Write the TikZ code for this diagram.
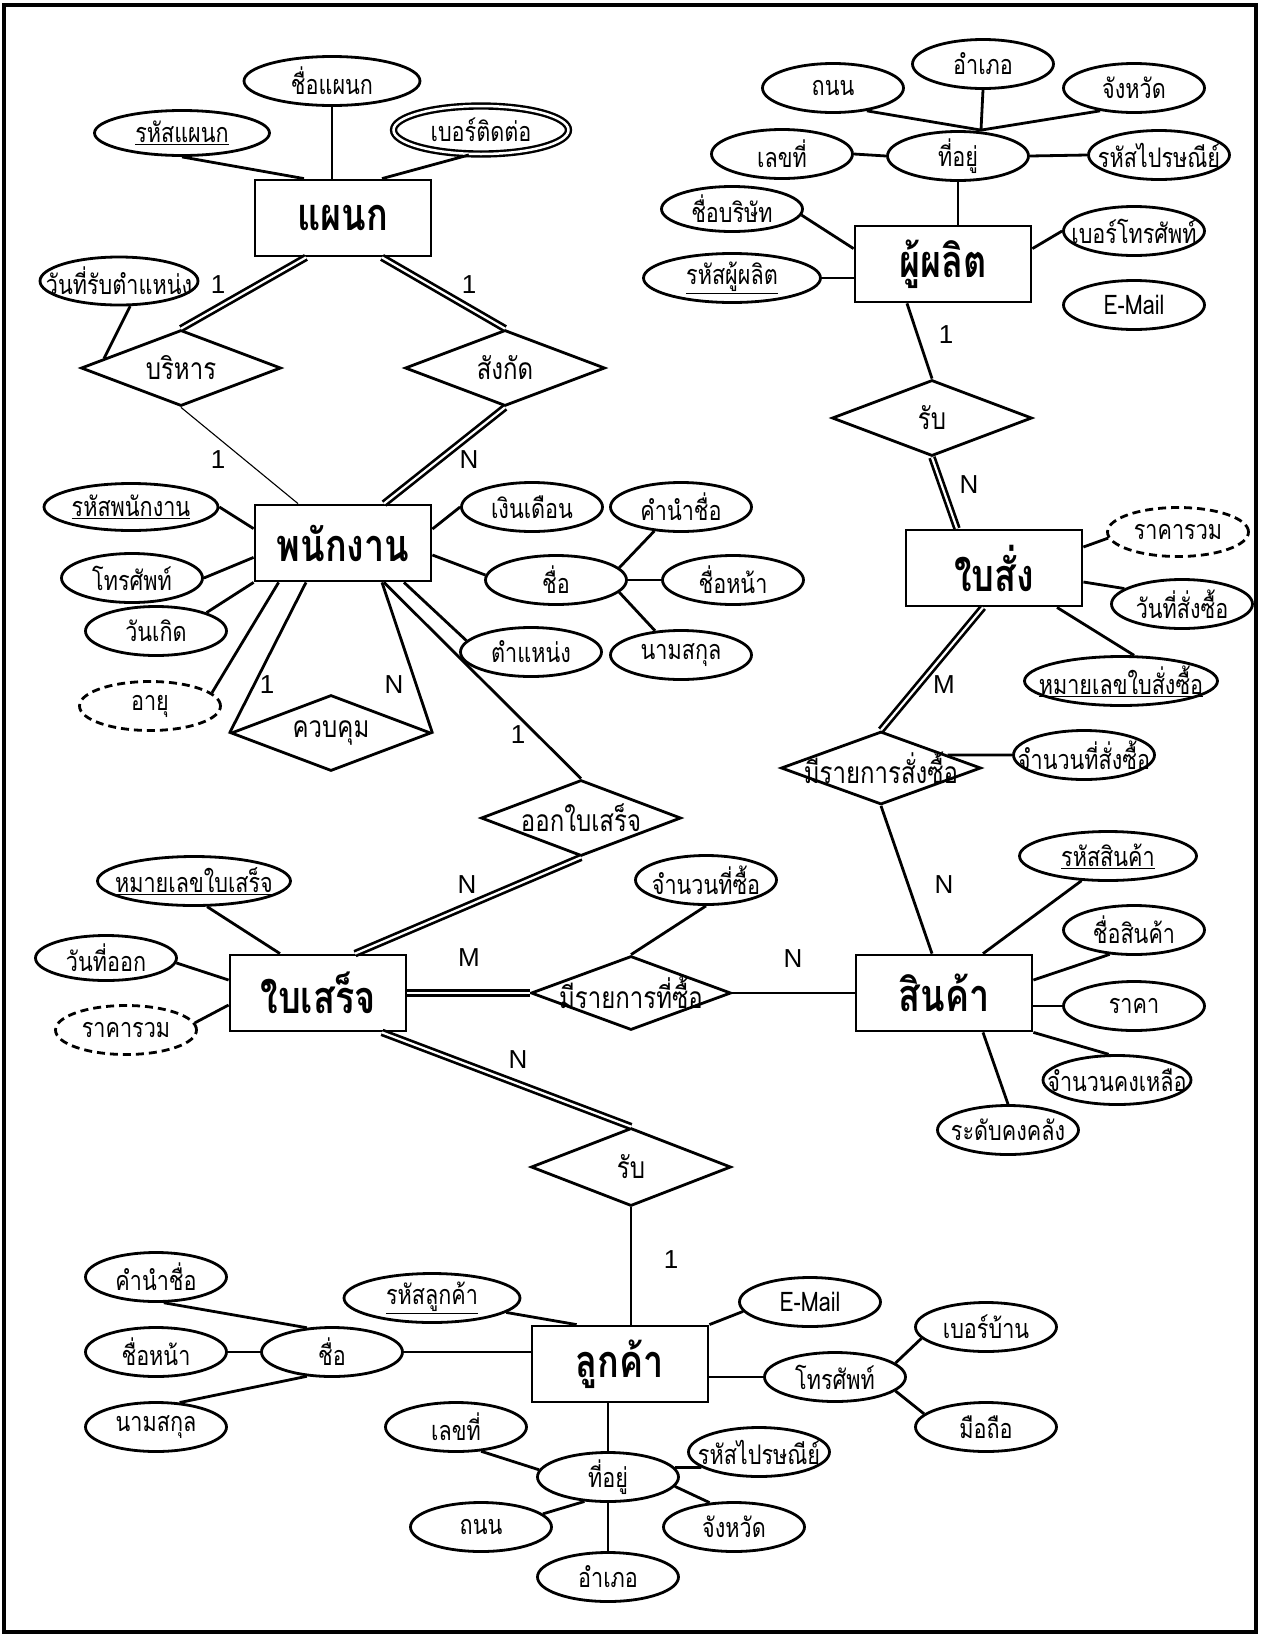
\documentclass[tikz,border=0pt]{standalone}
\usepackage{fontspec}
\setmainfont{Loma}[Script=Thai,FakeStretch=0.8]
\newfontfamily\lat{Liberation Sans}
\usepackage{tikz}
\usetikzlibrary{shapes,positioning}

\begin{document}
\begin{tikzpicture}[x=1pt, y=-1pt,
  entity/.style={draw, rectangle, line width=2.8pt, minimum width=176pt, minimum height=76pt, font=\fontsize{45}{48}\selectfont\bfseries},
  relation/.style={draw, diamond, line width=2.8pt, minimum width=200pt, minimum height=76pt, inner xsep=-100pt, inner ysep=0pt, font=\fontsize{30}{32}\selectfont},
  attr/.style={draw, ellipse, line width=2.8pt, minimum width=141pt, minimum height=49pt, inner xsep=-80pt, inner ysep=-4pt, font=\fontsize{27}{29}\selectfont},
  multi/.style={attr, double, line width=2.4pt, double distance=2.5pt},
  derived/.style={attr, dash pattern=on 8pt off 5pt},
  link/.style={line width=2.8pt},
  thinlink/.style={line width=1.1pt},
  total/.style={double, line width=2.7pt, double distance=2.2pt},
  card/.style={font=\lat\fontsize{26}{28}\selectfont}
]
  \useasboundingbox (0,0) rectangle (1261,1636);
  \draw[line width=3.5pt] (4,5) rectangle (1256,1632);

  % Nodes
  \node (dept) [entity] at (343,218) {แผนก};
  \node (emp) [entity] at (343,543) {พนักงาน};
  \node (maker) [entity] at (943,264) {ผู้ผลิต};
  \node (order) [entity] at (994,568) {ใบสั่ง};
  \node (receipt) [entity] at (318,993) {ใบเสร็จ};
  \node (product) [entity] at (944,993) {สินค้า};
  \node (cust) [entity] at (620,1364) {ลูกค้า};

  \node (manage) [relation] at (181,368) {บริหาร};
  \node (belong) [relation] at (505,368) {สังกัด};
  \node (control) [relation] at (331,733) {ควบคุม};
  \node (issue) [relation] at (581,818) {ออกใบเสร็จ};
  \node (getorder) [relation] at (932,418) {รับ};
  \node (orderline) [relation, minimum height=73pt] at (881,768) {มีรายการสั่งซื้อ};
  \node (buyline) [relation, minimum height=74pt] at (631,993) {มีรายการที่ซื้อ};
  \node (getrcpt) [relation, minimum height=78pt] at (631,1167) {รับ};

  \node (dname) [attr, minimum width=176pt] at (332,81) {ชื่อแผนก};
  \node (did) [attr, minimum width=175pt, minimum height=45pt] at (182,133) {\underline{รหัสแผนก}};
  \node (dtel) [multi, minimum width=175pt, minimum height=48pt] at (481,130) {เบอร์ติดต่อ};
  \node (mdate) [attr, minimum width=158pt, minimum height=48pt] at (119,281) {วันที่รับตำแหน่ง};

  \node (eid) [attr, minimum width=174pt, minimum height=47pt] at (131,507) {\underline{รหัสพนักงาน}};
  \node (etel) [attr] at (132,578) {โทรศัพท์};
  \node (ebirth) [attr] at (156,631) {วันเกิด};
  \node (eage) [derived] at (150,706) {อายุ};
  \node (esal) [attr] at (532,507) {เงินเดือน};
  \node (ename) [attr] at (556,580) {ชื่อ};
  \node (epos) [attr] at (531,652) {ตำแหน่ง};
  \node (eprefix) [attr] at (681,507) {คำนำชื่อ};
  \node (efirst) [attr] at (733,580) {ชื่อหน้า};
  \node (elast) [attr] at (681,655) {นามสกุล};

  \node (maddr) [attr] at (958,156) {ที่อยู่};
  \node (mno) [attr] at (782,154) {เลขที่};
  \node (mroad) [attr] at (833,88) {ถนน};
  \node (mdist) [attr] at (983,64) {อำเภอ};
  \node (mprov) [attr] at (1134,88) {จังหวัด};
  \node (mzip) [attr] at (1159,155) {รหัสไปรษณีย์};
  \node (mcomp) [attr, minimum height=45pt] at (732,209) {ชื่อบริษัท};
  \node (mid) [attr, minimum width=177pt] at (732,278) {\underline{รหัสผู้ผลิต}};
  \node (mtel) [attr] at (1134,231) {เบอร์โทรศัพท์};
  \node (mmail) [attr] at (1134,305) {E-Mail};

  \node (ototal) [derived] at (1178,532) {ราคารวม};
  \node (odate) [attr] at (1182,604) {วันที่สั่งซื้อ};
  \node (ono) [attr, minimum width=193pt] at (1121,681) {\underline{หมายเลขใบสั่งซื้อ}};
  \node (olqty) [attr] at (1084,755) {จำนวนที่สั่งซื้อ};

  \node (pid) [attr, minimum width=177pt] at (1108,856) {\underline{รหัสสินค้า}};
  \node (pname) [attr] at (1134,930) {ชื่อสินค้า};
  \node (pprice) [attr] at (1134,1006) {ราคา};
  \node (pstock) [attr, minimum width=148pt] at (1117,1080) {จำนวนคงเหลือ};
  \node (plevel) [attr] at (1008,1130) {ระดับคงคลัง};

  \node (rno) [attr, minimum width=193pt] at (194,881) {\underline{หมายเลขใบเสร็จ}};
  \node (rdate) [attr, minimum height=45pt] at (106,958) {วันที่ออก};
  \node (rtotal) [derived] at (126,1030) {ราคารวม};
  \node (bqty) [attr] at (706,880) {จำนวนที่ซื้อ};

  \node (cid) [attr, minimum width=176pt] at (432,1298) {\underline{รหัสลูกค้า}};
  \node (cname) [attr] at (332,1352) {ชื่อ};
  \node (cprefix) [attr] at (156,1277) {คำนำชื่อ};
  \node (cfirst) [attr] at (156,1352) {ชื่อหน้า};
  \node (clast) [attr] at (156,1427) {นามสกุล};
  \node (cmail) [attr] at (810,1302) {E-Mail};
  \node (ctel) [attr] at (835,1377) {โทรศัพท์};
  \node (chome) [attr] at (986,1327) {เบอร์บ้าน};
  \node (cmob) [attr] at (986,1427) {มือถือ};
  \node (caddr) [attr] at (608,1477) {ที่อยู่};
  \node (cno) [attr] at (456,1427) {เลขที่};
  \node (czip) [attr] at (759,1452) {รหัสไปรษณีย์};
  \node (croad) [attr] at (481,1527) {ถนน};
  \node (cprov) [attr] at (734,1527) {จังหวัด};
  \node (cdist) [attr] at (608,1577) {อำเภอ};

  % Cardinalities
  \node (k1) [card] at (218,285) {1};
  \node (k2) [card] at (469,285) {1};
  \node (k3) [card] at (218,460) {1};
  \node (k4) [card] at (469,460) {N};
  \node (k5) [card] at (267,685) {1};
  \node (k6) [card] at (394,685) {N};
  \node (k7) [card] at (518,735) {1};
  \node (k8) [card] at (946,335) {1};
  \node (k9) [card] at (969,485) {N};
  \node (k10) [card] at (944,685) {M};
  \node (k11) [card] at (944,885) {N};
  \node (k12) [card] at (467,885) {N};
  \node (k13) [card] at (469,958) {M};
  \node (k14) [card] at (793,959) {N};
  \node (k15) [card] at (518,1060) {N};
  \node (k16) [card] at (671,1260) {1};

  % Edges
  \draw[link] (did.south) -- ([xshift=-39pt]dept.north);
  \draw[link] (dname.south) -- (dname.south |- dept.north);
  \draw[link] (dtel.244) -- ([xshift=39pt]dept.north);
  \draw[total] ([xshift=-37pt]dept.south) -- (manage.north);
  \draw[total] ([xshift=39pt]dept.south) -- (belong.north);
  \draw[link] (mdate.-66) -- (manage.173);
  \draw[thinlink] (manage.south) -- ([xshift=-45pt]emp.north);
  \draw[total] (belong.south) -- ([xshift=41pt]emp.north);

  \draw[link] (eid.east) -- ([yshift=-25pt]emp.north west);
  \draw[link] (etel.east) -- ([yshift=25pt]emp.south west);
  \draw[link] (ebirth.20) -- (emp.south west);
  \draw[link] (eage.12) -- ([xshift=25pt]emp.south west);
  \draw[link] ([xshift=-37pt]emp.south) -- (control.west);
  \draw[link] ([xshift=39pt]emp.south) -- (control.east);
  \draw[link] ([yshift=14pt]emp.east) -- (esal.west);
  \draw[link] ([yshift=-12pt]emp.east) -- (ename.176);
  \draw[link] ([xshift=61pt]emp.south) -- (epos.170);
  \draw[link] ([xshift=41pt]emp.south) -- (issue.north);
  \draw[link] (ename.11) -- (eprefix.222);
  \draw[link] (ename.east) -- (efirst.west);
  \draw[link] (ename.-11) -- (elast.137);

  \coordinate (mhub) at ([xshift=23pt]maddr.north);
  \draw[link] (maddr.south) -- (maddr.south |- maker.north);
  \draw[link] (mroad.-34) -- (mhub);
  \draw[link] (mdist.south) -- (mhub);
  \draw[link] (mprov.214) -- (mhub);
  \draw[link] (mno.east) -- (maddr.west);
  \draw[link] (mzip.west) -- (maddr.east);
  \draw[link] (mcomp.-5) -- ([yshift=-24pt]maker.north west);
  \draw[link] (mid.east) -- (mid.east -| maker.west);
  \draw[link] (mtel.west) -- ([yshift=-24pt]maker.north east);
  \draw[link] ([xshift=-36pt]maker.south) -- (getorder.north);
  \draw[total] (getorder.south) -- ([xshift=-37pt]order.north);

  \draw[link] ([yshift=21pt]order.east) -- (ototal.185);
  \draw[link] ([yshift=-14pt]order.east) -- (odate.165);
  \draw[link] ([xshift=63pt]order.south) -- (ono.63);
  \draw[total] ([xshift=-11pt]order.south) -- (orderline.north);
  \draw[link] (orderline.11) -- (olqty.west);
  \draw[link] (orderline.south) -- ([xshift=-12pt]product.north);

  \draw[link] ([xshift=39pt]product.north) -- (pid.223);
  \draw[link] ([yshift=13pt]product.east) -- (pname.225);
  \draw[link] (pprice.west) -- (pprice.west -| product.east);
  \draw[link] (product.south east) -- (pstock.108);
  \draw[link] ([xshift=39pt]product.south) -- (plevel.north);

  \draw[total] (issue.south) -- ([xshift=37pt]receipt.north);
  \draw[link] (rno.-63) -- ([xshift=-38pt]receipt.north);
  \draw[link] (rdate.-4) -- ([yshift=13pt]receipt.west);
  \draw[link] (rtotal.6) -- ([yshift=-12pt]receipt.west);
  \draw[total] (receipt.east) -- (buyline.west);
  \draw[total] ([xshift=64pt]receipt.south) -- (getrcpt.north);
  \draw[link] (buyline.east) -- (product.west);
  \draw[link] (bqty.south) -- (buyline.north);

  \draw[link] (getrcpt.south) -- (getrcpt.south |- cust.north);
  \draw[link] (cid.-11) -- ([xshift=46pt]cust.north west);
  \draw[link] (cname.east) -- (cname.east -| cust.west);
  \draw[link] (cprefix.-73) -- (cname.136);
  \draw[link] (cfirst.east) -- (cname.west);
  \draw[link] (clast.46) -- (cname.224);
  \draw[link] (cust.north east) -- (cmail.188);
  \draw[link] (ctel.west) -- (ctel.west -| cust.east);
  \draw[link] (ctel.13) -- (chome.190);
  \draw[link] (ctel.-13) -- (cmob.168);
  \draw[link] (caddr.north |- cust.south) -- (caddr.north);
  \draw[link] (cno.-44) -- (caddr.174);
  \draw[link] (caddr.8) -- (czip.195);
  \draw[link] (croad.12) -- (caddr.226);
  \draw[link] (caddr.-8) -- (cprov.135);
  \draw[link] (caddr.south) -- (cdist.north);
\end{tikzpicture}
\end{document}
